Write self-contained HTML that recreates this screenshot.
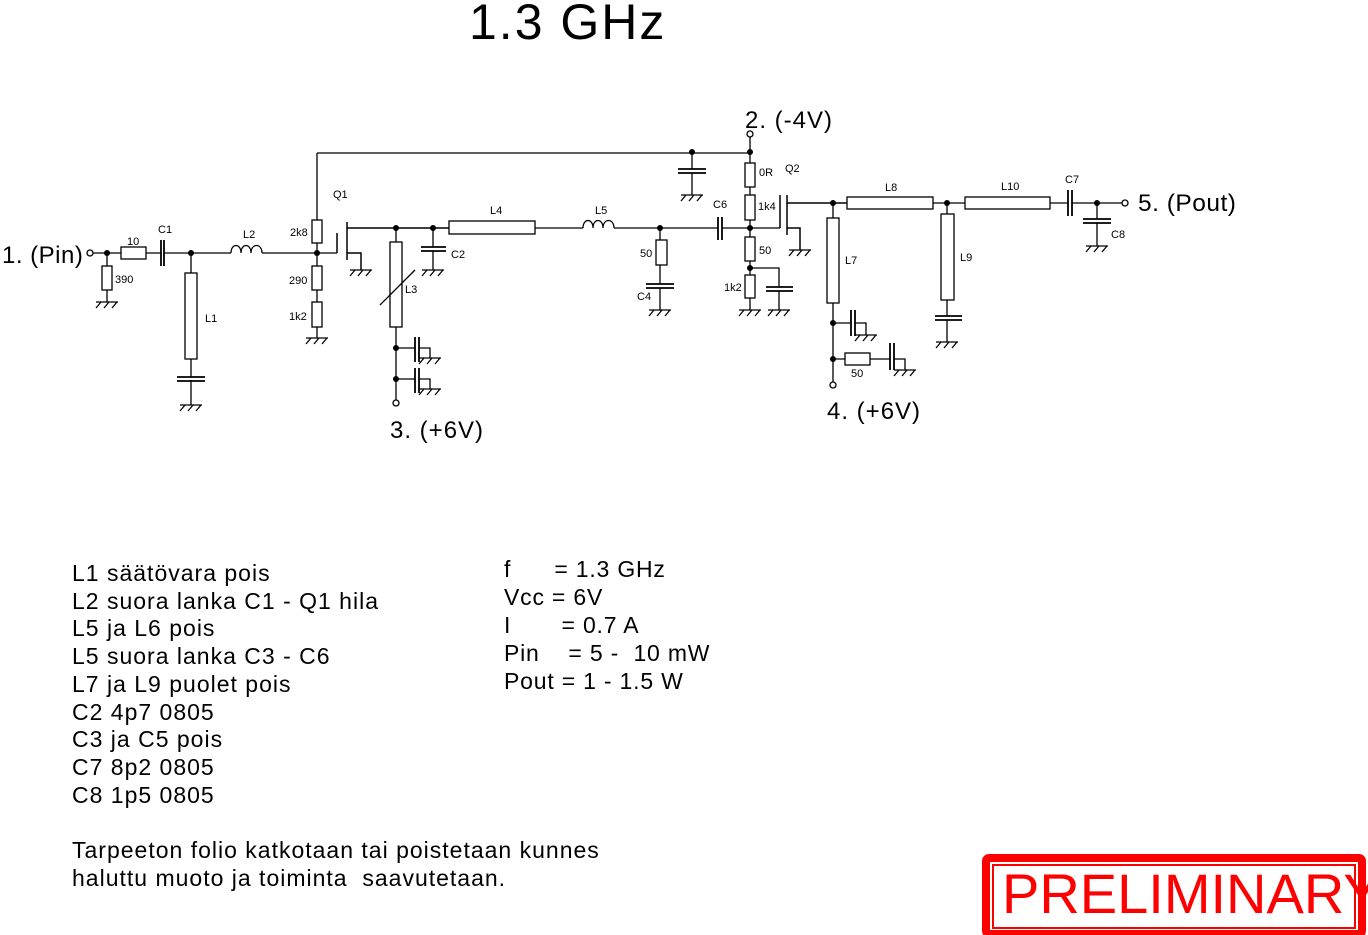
<!DOCTYPE html>
<html><head><meta charset="utf-8"><style>
body{margin:0;background:#fff;width:1368px;height:935px;overflow:hidden;position:relative;font-family:"Liberation Sans",sans-serif}
svg{position:absolute;left:0;top:0}
.n{position:absolute;left:72px;top:560px;font-size:23px;line-height:27.7px;color:#000;white-space:pre;letter-spacing:1px}
.m{position:absolute;left:504px;top:555px;font-size:23px;line-height:28px;white-space:pre;letter-spacing:0.8px}
</style></head><body>
<svg width="1368" height="935" viewBox="0 0 1368 935" font-family="Liberation Sans, sans-serif">
<defs>
<g id="g"><path d="M-11 0H11M-6 0l-5 6M2 0l-5 6M10 0l-5 6" stroke="#000" stroke-width="1.3" fill="none"/></g>
</defs>
<g stroke="#000" stroke-width="1.3" fill="none">
<circle cx="90" cy="253" r="3" fill="#fff"/>
<path d="M93 253H121M146 253H161M164 253H231M262 253H337"/>
<rect x="121" y="247" width="25" height="12"/>
<path d="M161 240V266M164 240V266" stroke-width="1.8"/>
<path d="M107 253V266M107 290V302"/>
<rect x="102" y="266" width="10" height="24"/>
<path d="M191 253V273M191 359V377M191 380V405"/>
<rect x="185" y="273" width="12" height="86"/>
<path d="M177 377H205M177 381H205" stroke-width="1.8"/>
<path d="M231 253c0-10 10-10 10 0c0-10 10-10 10 0c0-10 11-10 11 0"/>
<path d="M317 153H749M317 153V220M317 243V266M317 290V302M317 327V338"/>
<rect x="312" y="220" width="10" height="23"/>
<rect x="312" y="266" width="10" height="24"/>
<rect x="312" y="302" width="10" height="25"/>
<path d="M337 233V253M347 222V260M347 228H449M347 253H361V270" stroke-width="1.5"/>
<rect x="449" y="221" width="86" height="13"/>
<path d="M535 228H583M614 228H718M722 228H780"/>
<path d="M583 228c0-10 10-10 10 0c0-10 10-10 10 0c0-10 11-10 11 0"/>
<path d="M718 217V240M722 217V240" stroke-width="1.8"/>
<path d="M396 228V242M396 327V400"/>
<rect x="390" y="242" width="12" height="85"/>
<path d="M380 305L415 270"/>
<path d="M396 348H415M419 348H430V358M396 379H415M419 379H430V389"/>
<path d="M415 337V362M419 337V362M415 368V393M419 368V393" stroke-width="1.8"/>
<circle cx="396" cy="403" r="3" fill="#fff"/>
<path d="M433 228V247M433 251V270"/>
<path d="M421 247H446M421 251H446" stroke-width="1.8"/>
<path d="M660 228V240M660 265V284M660 288V310"/>
<rect x="656" y="240" width="11" height="25"/>
<path d="M646 284H674M646 288H674" stroke-width="1.8"/>
<path d="M692 153V169M692 173V195"/>
<path d="M678 169H706M678 173H706" stroke-width="1.8"/>
<circle cx="750" cy="134" r="3" fill="#fff"/>
<path d="M750 137V163M750 187V195M750 220V237M750 261V275M750 298V310M750 268H779V287M779 291V310"/>
<rect x="745" y="163" width="10" height="24"/>
<rect x="745" y="195" width="10" height="25"/>
<rect x="745" y="237" width="10" height="24"/>
<rect x="745" y="275" width="10" height="23"/>
<path d="M766 287H793M766 291H793" stroke-width="1.8"/>
<path d="M780 195V228M787 195V235M787 203H847M787 228H800V250" stroke-width="1.5"/>
<rect x="847" y="197" width="86" height="12"/>
<path d="M933 203H965M1050 203H1068M1072 203H1122"/>
<rect x="965" y="197" width="85" height="12"/>
<path d="M1068 190V216M1072 190V216" stroke-width="1.8"/>
<circle cx="1125" cy="203" r="3" fill="#fff"/>
<path d="M1097 203V219M1097 223V246"/>
<path d="M1083 219H1111M1083 223H1111" stroke-width="1.8"/>
<path d="M833 203V218M833 303V382"/>
<rect x="827" y="218" width="12" height="85"/>
<path d="M833 323H851M855 323H866V335M833 359H845M870 359H890M894 359H905V370"/>
<rect x="845" y="353" width="25" height="12"/>
<path d="M851 310V336M855 310V336M890 343V370M894 343V370" stroke-width="1.8"/>
<circle cx="833" cy="385" r="3" fill="#fff"/>
<path d="M947 203V214M947 300V316M947 320V342"/>
<rect x="941" y="214" width="13" height="86"/>
<path d="M935 316H962M935 320H962" stroke-width="1.8"/>
</g>
<g>
<use href="#g" x="107" y="302"/><use href="#g" x="191" y="405"/><use href="#g" x="317" y="338"/>
<use href="#g" x="361" y="270"/><use href="#g" x="433" y="270"/><use href="#g" x="430" y="358"/><use href="#g" x="430" y="389"/>
<use href="#g" x="660" y="310"/><use href="#g" x="692" y="195"/><use href="#g" x="750" y="310"/><use href="#g" x="779" y="310"/>
<use href="#g" x="800" y="250"/><use href="#g" x="866" y="335"/><use href="#g" x="905" y="370"/><use href="#g" x="947" y="342"/><use href="#g" x="1097" y="246"/>
</g>
<g fill="#000">
<circle cx="107" cy="253" r="3"/><circle cx="191" cy="253" r="3"/><circle cx="317" cy="253" r="3"/>
<circle cx="396" cy="228" r="3"/><circle cx="433" cy="228" r="3"/><circle cx="396" cy="348" r="3"/><circle cx="396" cy="379" r="3"/>
<circle cx="660" cy="228" r="3"/><circle cx="692" cy="152" r="3"/><circle cx="750" cy="152" r="3"/><circle cx="750" cy="228" r="3"/><circle cx="750" cy="268" r="3"/>
<circle cx="833" cy="203" r="3"/><circle cx="833" cy="323" r="3"/><circle cx="833" cy="359" r="3"/><circle cx="947" cy="203" r="3"/><circle cx="1097" cy="203" r="3"/>
</g>
<g font-size="11" fill="#000">
<text x="127" y="245">10</text><text x="158" y="233">C1</text><text x="115" y="283">390</text><text x="205" y="322">L1</text>
<text x="243" y="238">L2</text><text x="290" y="236">2k8</text><text x="289" y="284">290</text><text x="289" y="320">1k2</text>
<text x="333" y="198">Q1</text><text x="405" y="293">L3</text><text x="451" y="258">C2</text><text x="490" y="214">L4</text>
<text x="595" y="214">L5</text><text x="640" y="257">50</text><text x="637" y="300">C4</text><text x="713" y="208">C6</text>
<text x="759" y="176">0R</text><text x="785" y="172">Q2</text><text x="758" y="210">1k4</text><text x="759" y="254">50</text><text x="724" y="291">1k2</text>
<text x="885" y="191">L8</text><text x="845" y="264">L7</text><text x="851" y="377">50</text><text x="960" y="261">L9</text>
<text x="1001" y="190">L10</text><text x="1065" y="183">C7</text><text x="1111" y="238">C8</text>
</g>
<g font-size="24" fill="#000">
<text x="2" y="263" letter-spacing="0.5">1. (Pin)</text>
<text x="745" y="128" letter-spacing="1">2.  (-4V)</text>
<text x="390" y="438" letter-spacing="1">3. (+6V)</text>
<text x="827" y="419" letter-spacing="1">4. (+6V)</text>
<text x="1138" y="211" letter-spacing="0.5" font-size="24.5">5. (Pout)</text>
</g>
<text x="469" y="39" font-size="50" fill="#000" letter-spacing="2">1.3 GHz</text>
<rect x="986" y="858" width="376" height="76" rx="3" fill="none" stroke="#f00" stroke-width="8"/>
<rect x="993" y="865" width="362" height="63" fill="none" stroke="#f00" stroke-width="2"/>
<text x="1002" y="913" font-size="56" fill="#f00">PRELIMINARY</text>
</svg>
<div class="n">L1 säätövara pois
L2 suora lanka C1 - Q1 hila
L5 ja L6 pois
L5 suora lanka C3 - C6
L7 ja L9 puolet pois
C2 4p7 0805
C3 ja C5 pois
C7 8p2 0805
C8 1p5 0805

Tarpeeton folio katkotaan tai poistetaan kunnes
haluttu muoto ja toiminta  saavutetaan.</div>
<div class="m">f      = 1.3 GHz
Vcc = 6V
I       = 0.7 A
Pin    = 5 -  10 mW
Pout = 1 - 1.5 W</div>
</body></html>
